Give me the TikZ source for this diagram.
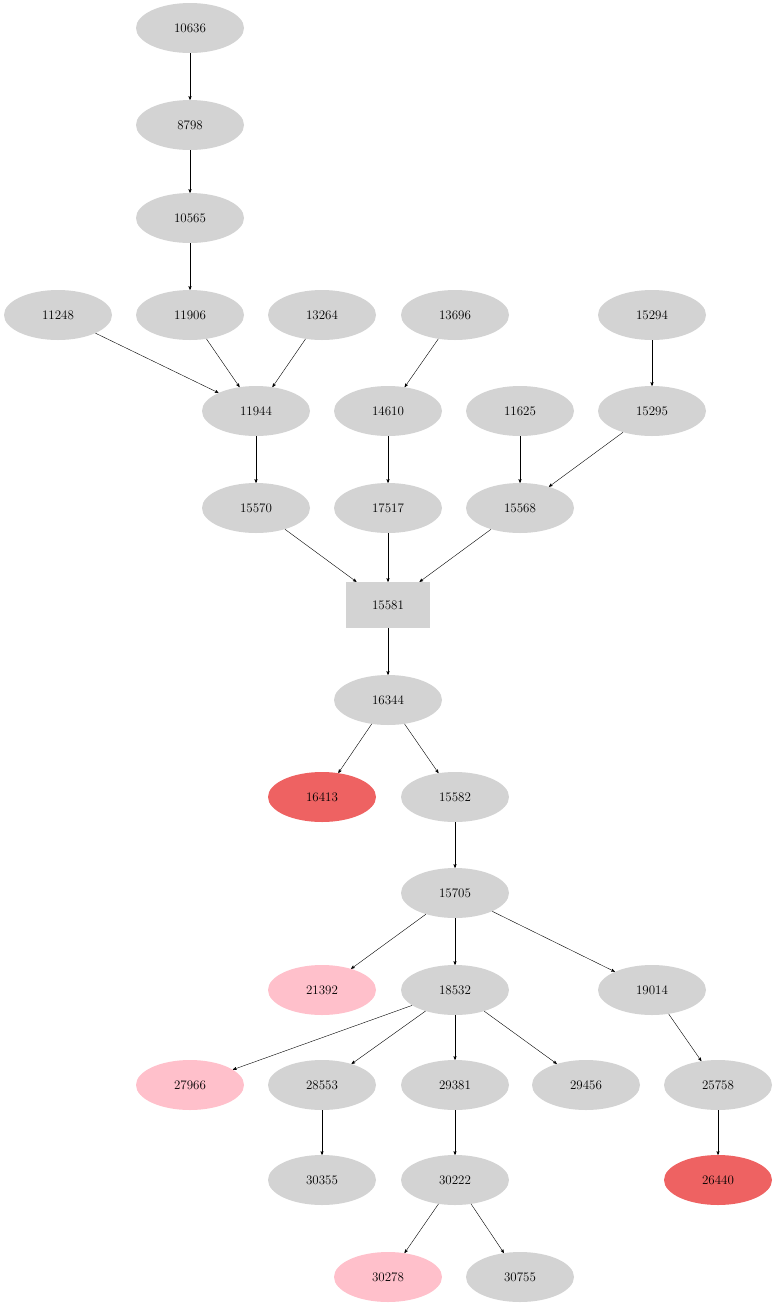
\documentclass[tikz,border=0pt]{standalone}
\usepackage{tikz}
\usetikzlibrary{arrows,shapes.geometric}
\definecolor{nodegray}{HTML}{D3D3D3}
\definecolor{hotred}{HTML}{EE6262}
\definecolor{softpink}{HTML}{FFC0CB}
\begin{document}
\begin{tikzpicture}[x=1pt,y=-1pt,->,>=stealth',
    every node/.style={font=\fontsize{13}{15}\selectfont},
    gnode/.style={ellipse,fill=nodegray,minimum width=108pt,minimum height=50pt,inner sep=0pt},
    rnode/.style={gnode,fill=hotred},
    pnode/.style={gnode,fill=softpink},
    bnode/.style={rectangle,fill=nodegray,minimum width=84pt,minimum height=46pt}]
  \useasboundingbox (0,0) rectangle (778,1307);

  \node[gnode] (10636) at (190,28) {10636};
  \node[gnode] (8798) at (190,125) {8798};
  \node[gnode] (10565) at (190,218) {10565};
  \node[gnode] (11248) at (58,315) {11248};
  \node[gnode] (11906) at (190,315) {11906};
  \node[gnode] (13264) at (322,315) {13264};
  \node[gnode] (13696) at (455,315) {13696};
  \node[gnode] (15294) at (652,315) {15294};
  \node[gnode] (11944) at (256,411) {11944};
  \node[gnode] (14610) at (388,411) {14610};
  \node[gnode] (11625) at (520,411) {11625};
  \node[gnode] (15295) at (652,411) {15295};
  \node[gnode] (15570) at (256,508) {15570};
  \node[gnode] (17517) at (388,508) {17517};
  \node[gnode] (15568) at (520,508) {15568};
  \node[bnode] (15581) at (388,605) {15581};
  \node[gnode] (16344) at (388,700) {16344};
  \node[rnode] (16413) at (322,797) {16413};
  \node[gnode] (15582) at (455,797) {15582};
  \node[gnode] (15705) at (455,893) {15705};
  \node[pnode] (21392) at (322,990) {21392};
  \node[gnode] (18532) at (455,990) {18532};
  \node[gnode] (19014) at (652,990) {19014};
  \node[pnode] (27966) at (190,1085) {27966};
  \node[gnode] (28553) at (322,1085) {28553};
  \node[gnode] (29381) at (455,1085) {29381};
  \node[gnode] (29456) at (586,1085) {29456};
  \node[gnode] (25758) at (718,1085) {25758};
  \node[gnode] (30355) at (322,1180) {30355};
  \node[gnode] (30222) at (455,1180) {30222};
  \node[rnode] (26440) at (718,1180) {26440};
  \node[pnode] (30278) at (388,1277) {30278};
  \node[gnode] (30755) at (520,1277) {30755};

  \foreach \a/\b in {10636/8798, 8798/10565, 10565/11906, 11248/11944,
      11906/11944, 13264/11944, 13696/14610, 15294/15295, 11944/15570,
      14610/17517, 11625/15568, 15295/15568, 15570/15581, 17517/15581,
      15568/15581, 15581/16344, 16344/16413, 16344/15582, 15582/15705,
      15705/21392, 15705/18532, 15705/19014, 18532/27966, 18532/28553,
      18532/29381, 18532/29456, 19014/25758, 28553/30355, 29381/30222,
      25758/26440, 30222/30278, 30222/30755}
    \draw (\a) -- (\b);
\end{tikzpicture}
\end{document}
